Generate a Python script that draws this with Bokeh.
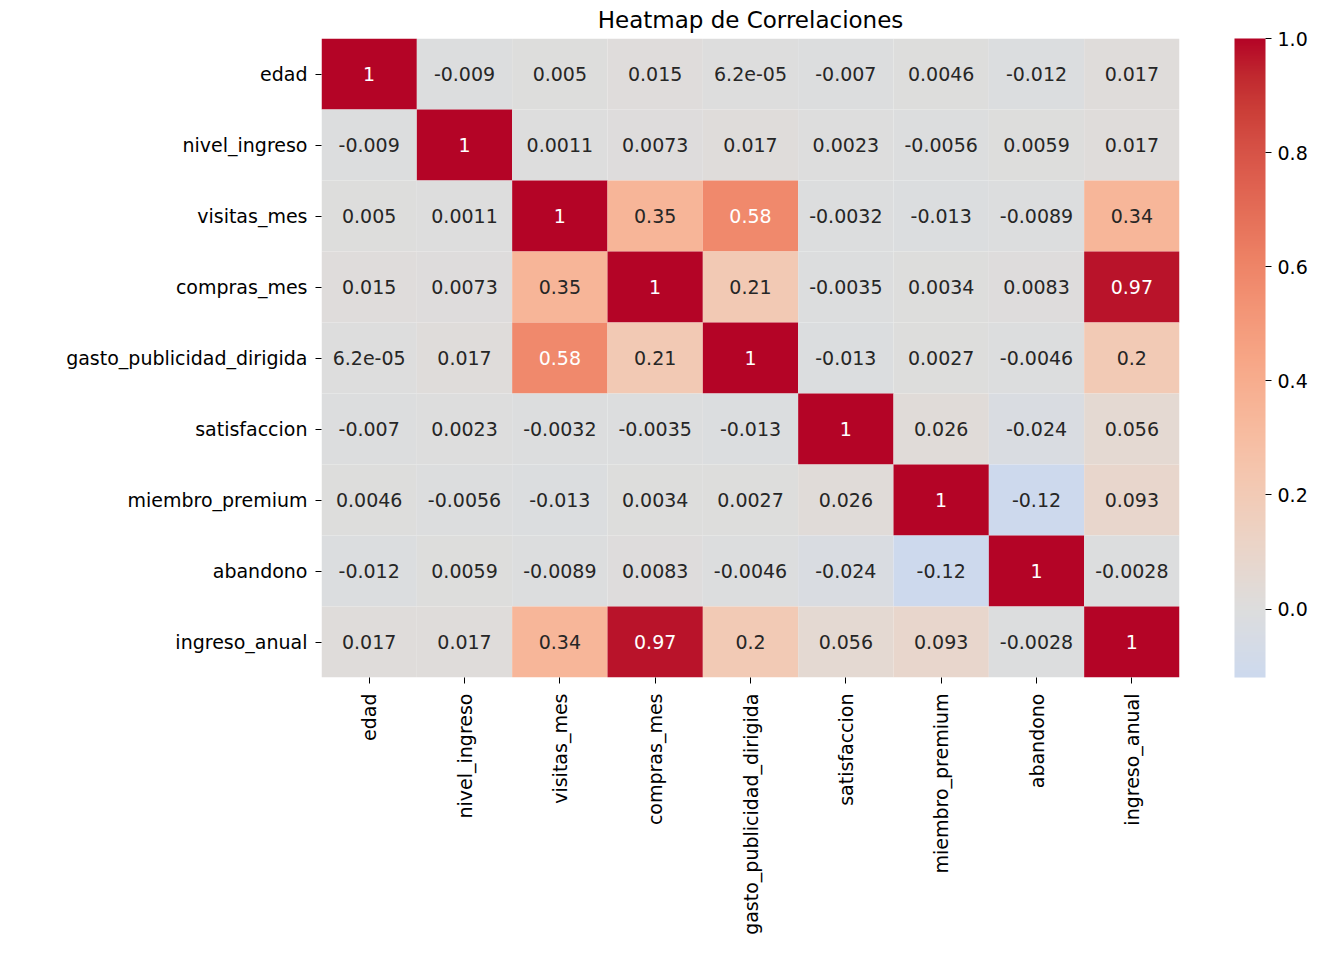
import numpy as np
from bokeh.plotting import figure
from bokeh.models import ColumnDataSource, LinearColorMapper, ColorBar, FixedTicker, PrintfTickFormatter
from bokeh.transform import transform
from bokeh.embed import file_html
from bokeh.resources import INLINE
from bokeh.core.properties import value

title_text = "Heatmap de Correlaciones"
variables = ["edad", "nivel_ingreso", "visitas_mes", "compras_mes",
             "gasto_publicidad_dirigida", "satisfaccion", "miembro_premium",
             "abandono", "ingreso_anual"]

row_edad = [1, -0.009, 0.005, 0.015, 6.2e-05, -0.007, 0.0046, -0.012, 0.017]
row_nivel_ingreso = [-0.009, 1, 0.0011, 0.0073, 0.017, 0.0023, -0.0056, 0.0059, 0.017]
row_visitas_mes = [0.005, 0.0011, 1, 0.35, 0.58, -0.0032, -0.013, -0.0089, 0.34]
row_compras_mes = [0.015, 0.0073, 0.35, 1, 0.21, -0.0035, 0.0034, 0.0083, 0.97]
row_gasto = [6.2e-05, 0.017, 0.58, 0.21, 1, -0.013, 0.0027, -0.0046, 0.2]
row_satisfaccion = [-0.007, 0.0023, -0.0032, -0.0035, -0.013, 1, 0.026, -0.024, 0.056]
row_miembro = [0.0046, -0.0056, -0.013, 0.0034, 0.0027, 0.026, 1, -0.12, 0.093]
row_abandono = [-0.012, 0.0059, -0.0089, 0.0083, -0.0046, -0.024, -0.12, 1, -0.0028]
row_ingreso_anual = [0.017, 0.017, 0.34, 0.97, 0.2, 0.056, 0.093, -0.0028, 1]

corr_rows = [row_edad, row_nivel_ingreso, row_visitas_mes, row_compras_mes, row_gasto,
             row_satisfaccion, row_miembro, row_abandono, row_ingreso_anual]
cbar_ticks = [0.0, 0.2, 0.4, 0.6, 0.8, 1.0]

# coolwarm (Moreland) anchor table
_cw = np.array([
    [59, 76, 192], [68, 90, 204], [77, 104, 215], [87, 117, 225], [98, 130, 234],
    [108, 142, 241], [119, 154, 247], [130, 165, 251], [141, 176, 254], [152, 185, 255],
    [163, 194, 255], [174, 201, 253], [184, 208, 249], [194, 213, 244], [204, 217, 238],
    [213, 219, 230], [221, 221, 221], [229, 216, 209], [236, 211, 197], [241, 204, 184],
    [245, 196, 172], [247, 187, 159], [247, 177, 147], [247, 166, 134], [244, 154, 123],
    [241, 141, 111], [236, 127, 99], [229, 112, 89], [222, 96, 79], [213, 80, 69],
    [203, 62, 56], [192, 40, 47], [180, 4, 38]], dtype=float)
_cw_pos = np.linspace(0, 1, len(_cw))


def coolwarm(t):
    return [float(np.interp(t, _cw_pos, _cw[:, k])) for k in range(3)]


def to_hex(rgb):
    return "#%02x%02x%02x" % tuple(int(round(c)) for c in rgb)


def rel_lum(rgb):
    c = np.array(rgb) / 255.0
    c = np.where(c <= 0.03928, c / 12.92, ((c + 0.055) / 1.055) ** 2.4)
    return 0.2126 * c[0] + 0.7152 * c[1] + 0.0722 * c[2]


vmin = min(min(r) for r in corr_rows)
vmax = max(max(r) for r in corr_rows)
center = 0.0
vrange = max(vmax - center, center - vmin)


def cmap_color(v):
    return coolwarm((v - (center - vrange)) / (2 * vrange))


palette = [to_hex(cmap_color(v)) for v in np.linspace(vmin, vmax, 256)]
mapper = LinearColorMapper(palette=palette, low=vmin, high=vmax)

xs, ys, vals, labels, tcolors = [], [], [], [], []
for i, rname in enumerate(variables):
    for j, cname in enumerate(variables):
        v = corr_rows[i][j]
        xs.append(cname)
        ys.append(rname)
        vals.append(v)
        labels.append(format(v, ".2g"))
        tcolors.append("#262626" if rel_lum(cmap_color(v)) > 0.408 else "#ffffff")

src = ColumnDataSource(dict(x=xs, y=ys, v=vals, label=labels, tc=tcolors))

FONT = "DejaVu Sans"
p = figure(width=1318, height=957, x_range=variables, y_range=list(reversed(variables)),
           output_backend="svg", toolbar_location=None, title=title_text,
           min_border_left=321, min_border_top=38, min_border_right=139, min_border_bottom=280)

p.rect(x="x", y="y", width=1, height=1, source=src,
       fill_color=transform("v", mapper), line_color=None)
p.text(x="x", y="y", text="label", source=src, text_color="tc",
       text_align="center", text_baseline="middle",
       text_font=value(FONT), text_font_size="19px")

p.title.align = "center"
p.title.vertical_align = "middle"
p.title.text_font = FONT
p.title.text_font_size = "23px"
p.title.text_font_style = "normal"
p.title.text_color = "black"

p.grid.visible = False
p.outline_line_color = None
for ax in (p.xaxis, p.yaxis):
    ax.axis_line_color = None
    ax.major_tick_in = 0
    ax.major_tick_out = 6
    ax.major_tick_line_color = "black"
    ax.major_label_text_font = FONT
    ax.major_label_text_font_size = "19px"
    ax.major_label_text_color = "black"
p.yaxis.major_label_standoff = 8
p.xaxis.major_label_standoff = 10
p.xaxis.major_label_orientation = np.pi / 2
p.x_range.range_padding = 0
p.y_range.range_padding = 0

cb = ColorBar(color_mapper=mapper, ticker=FixedTicker(ticks=cbar_ticks),
              formatter=PrintfTickFormatter(format="%.1f"),
              width=31, height=639, padding=0, margin=0, location=(55, 0),
              major_tick_in=0, major_tick_out=6, major_tick_line_color="black",
              major_label_text_font=FONT, major_label_text_font_size="19px",
              major_label_text_color="black", label_standoff=6,
              bar_line_color=None, border_line_color=None, background_fill_color=None)
p.add_layout(cb, "right")

open("out.html", "w").write(file_html(p, INLINE))
